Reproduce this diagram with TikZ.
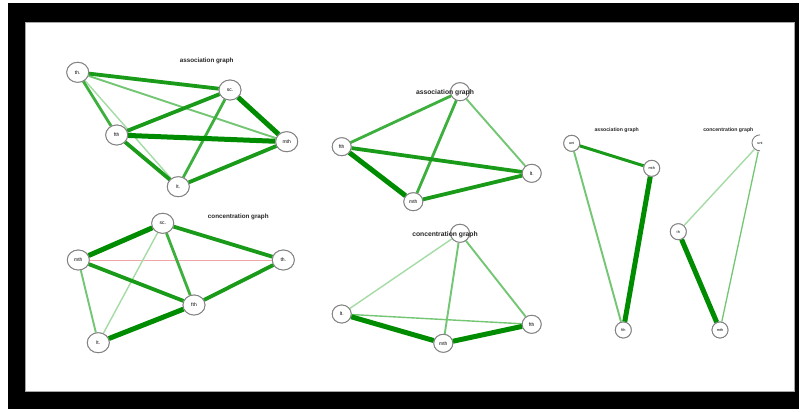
\documentclass[tikz,border=0pt]{standalone}
\usepackage{fontspec}
\setmainfont{Liberation Sans}
\usetikzlibrary{shapes.geometric}
\definecolor{gA}{RGB}{0,140,0}
\definecolor{gB}{RGB}{25,155,25}
\definecolor{gC}{RGB}{60,175,60}
\definecolor{gD}{RGB}{115,198,115}
\definecolor{gE}{RGB}{165,220,165}
\definecolor{pk}{RGB}{240,165,170}
\definecolor{ring}{RGB}{130,130,130}
\tikzset{
  nd/.style={ellipse,draw=ring,fill=white,line width=0.9bp,minimum width=22bp,minimum height=20bp,inner sep=0pt,font=\fontsize{5}{6}\selectfont},
  sn/.style={nd,minimum width=19bp,minimum height=18bp},
  tn/.style={nd,minimum width=16bp,minimum height=16bp,font=\fontsize{3.8}{4}\selectfont},
  ttl/.style={font=\bfseries\fontsize{6.3}{7}\selectfont,text=black!85,inner sep=0pt},
  ea/.style={draw=gA,line width=5bp},
  eb/.style={draw=gB,line width=3.8bp},
  ec/.style={draw=gC,line width=2.8bp},
  ed/.style={draw=gD,line width=1.9bp},
  ee/.style={draw=gE,line width=1.4bp},
  ep/.style={draw=pk,line width=1bp}
}
\begin{document}
\begin{tikzpicture}[x=1bp,y=-1bp]
\useasboundingbox (0,0) rectangle (800,411);
\fill[white] (0,0) rectangle (800,411);
\fill[black] (8,3) rectangle (799,409);
\fill[white] (25,22) rectangle (794,391);
\draw[gray!70,line width=0.6bp] (25,22) rectangle (794,391);

% ---------- graph 1: association graph (top left)
\node[nd] (a1th) at (77.7,72.3) {th.};
\node[nd] (a1sc) at (230,90) {sc.};
\node[nd] (a1fth) at (116.7,135) {fth};
\node[nd] (a1mth) at (286.7,141.7) {mth};
\node[nd] (a1lt) at (178.3,186.7) {lt.};
\node[ttl] (t1) at (206.7,60.7) {association graph};
\path[ed] (a1th) -- (a1mth);
\path[ee] (a1th) -- (a1lt);
\path[ec] (a1th) -- (a1fth);
\path[eb] (a1th) -- (a1sc);
\path[ec] (a1sc) -- (a1lt);
\path[eb] (a1sc) -- (a1fth);
\path[ea] (a1sc) -- (a1mth);
\path[ea] (a1fth) -- (a1mth);
\path[eb] (a1fth) -- (a1lt);
\path[eb] (a1lt) -- (a1mth);
\node[nd] at (a1th) {th.};
\node[nd] at (a1sc) {sc.};
\node[nd] at (a1fth) {fth};
\node[nd] at (a1mth) {mth};
\node[nd] at (a1lt) {lt.};

% ---------- graph 2: concentration graph (bottom left)
\node[nd] (c1sc) at (162.7,223.3) {sc.};
\node[nd] (c1mth) at (78.3,260) {mth};
\node[nd] (c1th) at (283.3,260) {th.};
\node[nd] (c1fth) at (194,305) {fth};
\node[nd] (c1lt) at (98.3,342.7) {lt.};
\node[ttl] (t2) at (238.3,217.3) {concentration graph};
\path[ep] (c1mth) -- (c1th);
\path[ee] (c1sc) -- (c1lt);
\path[ed] (c1mth) -- (c1lt);
\path[ec] (c1sc) -- (c1fth);
\path[eb] (c1sc) -- (c1th);
\path[eb] (c1mth) -- (c1fth);
\path[eb] (c1fth) -- (c1th);
\path[ea] (c1mth) -- (c1sc);
\path[ea] (c1lt) -- (c1fth);
\node[nd] at (c1sc) {sc.};
\node[nd] at (c1mth) {mth};
\node[nd] at (c1th) {th.};
\node[nd] at (c1fth) {fth};
\node[nd] at (c1lt) {lt.};

% ---------- graph 3: association graph (middle top)
\node[sn] (a2top) at (460,91.7) {};
\node[sn] (a2fth) at (341.7,146.7) {fth};
\node[sn] (a2lt) at (531.7,173.3) {lt.};
\node[sn] (a2mth) at (413.3,201.7) {mth};
\path[ec] (a2top) -- (a2fth);
\path[ed] (a2top) -- (a2lt);
\path[ec] (a2top) -- (a2mth);
\path[eb] (a2fth) -- (a2lt);
\path[ea] (a2fth) -- (a2mth);
\path[eb] (a2mth) -- (a2lt);
\node[sn] at (a2top) {};
\node[sn] at (a2fth) {fth};
\node[sn] at (a2lt) {lt.};
\node[sn] at (a2mth) {mth};
\node[ttl,font=\bfseries\fontsize{6.8}{7}\selectfont] (t3) at (445,92.7) {association graph};

% ---------- graph 4: concentration graph (middle bottom)
\node[sn] (c2top) at (460,233.3) {};
\node[sn] (c2lt) at (341.7,314) {lt.};
\node[sn] (c2fth) at (531.7,324.3) {fth};
\node[sn] (c2mth) at (443.3,343.3) {mth};
\path[ee] (c2top) -- (c2lt);
\path[ed] (c2top) -- (c2mth);
\path[ed] (c2top) -- (c2fth);
\path[ed,line width=1.4bp] (c2lt) -- (c2fth);
\path[ea] (c2lt) -- (c2mth);
\path[ea] (c2mth) -- (c2fth);
\node[sn] at (c2top) {};
\node[sn] at (c2lt) {lt.};
\node[sn] at (c2fth) {fth};
\node[sn] at (c2mth) {mth};
\node[ttl,font=\bfseries\fontsize{6.8}{7}\selectfont] (t4) at (445,234.3) {concentration graph};

% ---------- graph 5: association graph (right)
\node[tn] (a3uni) at (571.7,143.3) {uni};
\node[tn] (a3mth) at (651.7,168.3) {mth};
\node[tn] (a3fth) at (623.3,330) {fth};
\node[ttl,font=\bfseries\fontsize{5.2}{6}\selectfont] (t5) at (616.7,130) {association graph};
\path[eb,line width=3bp] (a3uni) -- (a3mth);
\path[ed] (a3uni) -- (a3fth);
\path[ea] (a3mth) -- (a3fth);
\node[tn] at (a3uni) {uni};
\node[tn] at (a3mth) {mth};
\node[tn] at (a3fth) {fth};

% ---------- graph 6: concentration graph (right)
\node[tn,draw=none,fill=none] (c3uni) at (760,143.3) {uni};
\node[tn] (c3th) at (678.3,231.7) {th};
\node[tn] (c3mth) at (720,330) {mth};
\node[ttl,font=\bfseries\fontsize{5.2}{6}\selectfont] (t6) at (728.3,130) {concentration graph};
\path[ee] (c3uni) -- (c3th);
\path[ed,line width=1.3bp] (c3uni) -- (c3mth);
\path[ea] (c3th) -- (c3mth);
\fill[white] (c3uni) circle (8bp);
\node[tn,draw=none,fill=none] at (c3uni) {uni};
\draw[ring,line width=0.9bp] (c3uni.north) arc[start angle=90,end angle=270,radius=8bp];
\node[tn] at (c3th) {th};
\node[tn] at (c3mth) {mth};
\end{tikzpicture}
\end{document}
